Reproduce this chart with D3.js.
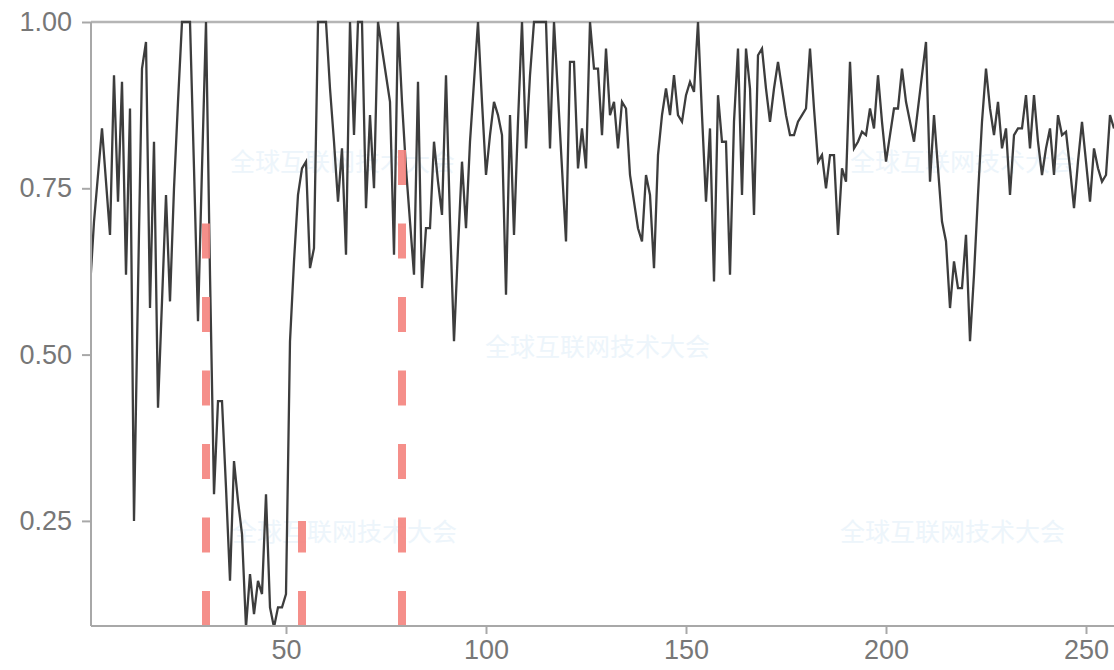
<!DOCTYPE html>
<html>
<head>
<meta charset="utf-8">
<script src="https://cdn.jsdelivr.net/npm/d3@7.9.0/dist/d3.min.js"></script>
<style>
  html, body { margin: 0; padding: 0; background: #fff; }
  svg { display: block; }
  .tick text { font-family: "Liberation Sans", Arial, sans-serif; }
</style>
</head>
<body>
<svg id="chart" width="1114" height="670"></svg>
<script>
// series values, one per index starting at 1
const values = [
  0.60, 0.70, 0.77, 0.84, 0.76, 0.68, 0.92, 0.73, 0.91, 0.62,
  0.87, 0.25, 0.60, 0.93, 0.97, 0.57, 0.82, 0.42, 0.58, 0.74,
  0.58, 0.75, 0.88, 1.00, 1.00, 1.00, 0.78, 0.55, 0.78, 1.00,
  0.62, 0.29, 0.43, 0.43, 0.30, 0.16, 0.34, 0.28, 0.23, 0.09,
  0.17, 0.11, 0.16, 0.14, 0.29, 0.12, 0.09, 0.12, 0.12, 0.14,
  0.52, 0.64, 0.74, 0.78, 0.79, 0.63, 0.66, 1.00, 1.00, 1.00,
  0.90, 0.82, 0.73, 0.81, 0.65, 1.00, 0.83, 1.00, 1.00, 0.72,
  0.86, 0.75, 1.00, 0.96, 0.92, 0.88, 0.65, 1.00, 0.88, 0.78,
  0.70, 0.62, 0.91, 0.60, 0.69, 0.69, 0.82, 0.76, 0.71, 0.92,
  0.70, 0.52, 0.66, 0.79, 0.69, 0.82, 0.91, 1.00, 0.88, 0.77,
  0.83, 0.88, 0.86, 0.83, 0.59, 0.86, 0.68, 0.85, 1.00, 0.81,
  0.92, 1.00, 1.00, 1.00, 1.00, 0.81, 1.00, 0.89, 0.78, 0.67,
  0.94, 0.94, 0.78, 0.84, 0.78, 1.00, 0.93, 0.93, 0.83, 0.96,
  0.86, 0.88, 0.81, 0.88, 0.87, 0.77, 0.73, 0.69, 0.67, 0.77,
  0.74, 0.63, 0.80, 0.86, 0.90, 0.86, 0.92, 0.86, 0.85, 0.89,
  0.91, 0.895, 1.00, 0.86, 0.73, 0.84, 0.61, 0.89, 0.82, 0.82,
  0.62, 0.85, 0.96, 0.74, 0.96, 0.90, 0.71, 0.95, 0.96, 0.90,
  0.85, 0.90, 0.94, 0.90, 0.86, 0.83, 0.83, 0.85, 0.86, 0.87,
  0.96, 0.87, 0.79, 0.80, 0.75, 0.80, 0.80, 0.68, 0.78, 0.76,
  0.94, 0.81, 0.82, 0.835, 0.83, 0.87, 0.84, 0.92, 0.85, 0.79,
  0.83, 0.87, 0.87, 0.93, 0.88, 0.85, 0.82, 0.87, 0.92, 0.97,
  0.76, 0.86, 0.78, 0.70, 0.67, 0.57, 0.64, 0.60, 0.60, 0.68,
  0.52, 0.62, 0.74, 0.85, 0.93, 0.87, 0.83, 0.88, 0.81, 0.84,
  0.74, 0.83, 0.84, 0.84, 0.89, 0.81, 0.89, 0.82, 0.77, 0.81,
  0.84, 0.77, 0.86, 0.83, 0.835, 0.78, 0.72, 0.79, 0.85, 0.79,
  0.73, 0.81, 0.78, 0.76, 0.77, 0.86, 0.84
];

// dashed marker segments: x position and top value
const cutX = [30, 54, 79];
const cutTop = [0.75, 0.25, 0.865];

const xTicks = [50, 100, 150, 200, 250];
const yTicks = [0.25, 0.50, 0.75, 1.00];

// faint watermark text
const markText = '全球互联网技术大会';
const markPos = [[230, 160], [850, 160], [485, 345], [232, 530], [840, 530]];

const svg = d3.select('#chart');
const plotLeft = 91, plotRight = 1114, plotTop = 22, plotBottom = 626;

const x = d3.scaleLinear().domain([1.25, 257]).range([plotLeft, plotRight]);
const y = d3.scaleLinear().domain([0.092, 1]).range([plotBottom, plotTop]);

// watermark
svg.append('g')
  .selectAll('text')
  .data(markPos)
  .join('text')
  .attr('x', (d) => d[0])
  .attr('y', (d) => d[1])
  .attr('dominant-baseline', 'central')
  .attr('font-family', '"Noto Sans CJK SC", sans-serif')
  .attr('font-size', 25)
  .attr('fill', '#edf5fb')
  .text(markText);

svg.append('clipPath').attr('id', 'clip')
  .append('rect')
  .attr('x', plotLeft).attr('y', plotTop - 2)
  .attr('width', plotRight - plotLeft).attr('height', plotBottom - plotTop + 2);

// top border line
svg.append('line')
  .attr('x1', plotLeft).attr('x2', plotRight)
  .attr('y1', y(1)).attr('y2', y(1))
  .attr('stroke', '#b5b5b5')
  .attr('stroke-width', 2.5);

const line = d3.line()
  .x((d, i) => x(i + 1))
  .y((d) => y(d));

svg.append('path')
  .datum(values)
  .attr('clip-path', 'url(#clip)')
  .attr('d', line)
  .attr('fill', 'none')
  .attr('stroke', '#3d3d3d')
  .attr('stroke-width', 2.3)
  .attr('stroke-linejoin', 'miter');

// dashed segments
svg.append('g')
  .selectAll('line')
  .data(cutX)
  .join('line')
  .attr('x1', (d) => x(d))
  .attr('x2', (d) => x(d))
  .attr('y1', plotBottom)
  .attr('y2', (d, i) => y(cutTop[i]))
  .attr('stroke', '#f4837d')
  .attr('stroke-opacity', 0.9)
  .attr('stroke-width', 8)
  .attr('stroke-dasharray', '35,38.5');

// axes
const xAxis = svg.append('g')
  .attr('transform', `translate(0,${plotBottom})`)
  .call(d3.axisBottom(x).tickValues(xTicks).tickSize(8).tickPadding(6).tickFormat(d3.format('d')));

const yAxis = svg.append('g')
  .attr('transform', `translate(${plotLeft},0)`)
  .call(d3.axisLeft(y).tickValues(yTicks).tickSize(9).tickPadding(10).tickFormat(d3.format('.2f')));

[xAxis, yAxis].forEach((g) => {
  g.select('.domain').attr('stroke', '#a8a8a8').attr('stroke-width', 2);
  g.selectAll('.tick line').attr('stroke', '#a8a8a8').attr('stroke-width', 2);
  g.selectAll('.tick text')
    .attr('fill', '#777')
    .attr('font-size', 27);
});
xAxis.select('.domain').attr('d', `M${plotLeft},0H${plotRight}`);
yAxis.select('.domain').attr('d', `M0,${plotBottom}V${plotTop}`);
</script>
</body>
</html>
